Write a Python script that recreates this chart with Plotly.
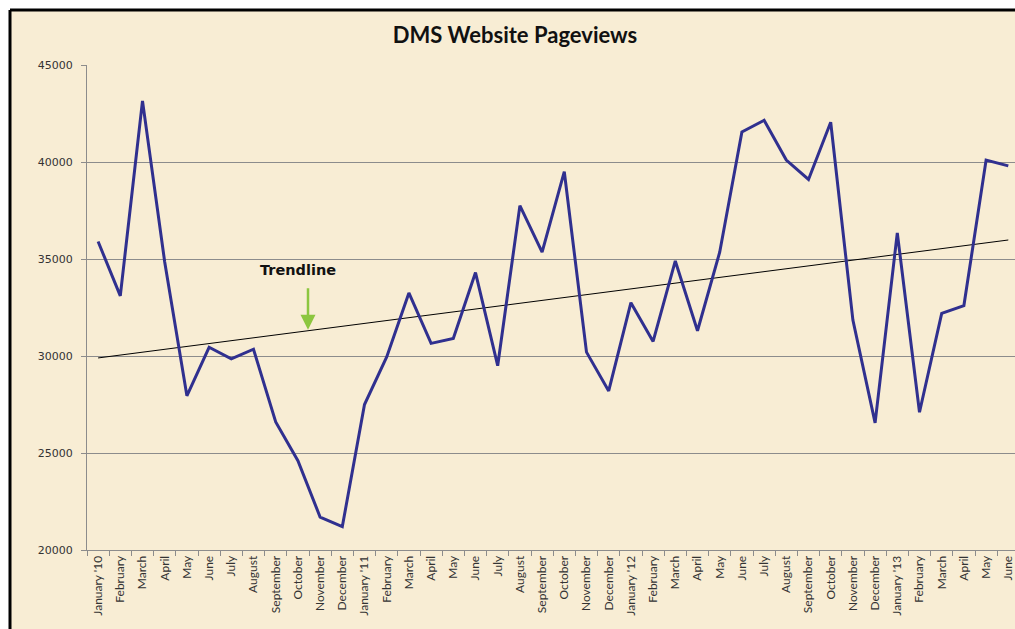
import plotly.graph_objects as go

months = ["January '10", "February", "March", "April", "May", "June", "July", "August",
          "September", "October", "November", "December",
          "January '11", "February", "March", "April", "May", "June", "July", "August",
          "September", "October", "November", "December",
          "January '12", "February", "March", "April", "May", "June", "July", "August",
          "September", "October", "November", "December",
          "January '13", "February", "March", "April", "May", "June"]

pageviews = [35900, 33100, 43150, 34850, 27950, 30450, 29850, 30350,
             26600, 24600, 21700, 21200,
             27500, 29950, 33250, 30650, 30900, 34300, 29500, 37750,
             35350, 39500, 30200, 28200,
             32750, 30750, 34900, 31300, 35350, 41550, 42150, 40100,
             39100, 42050, 31850, 26550,
             36350, 27100, 32200, 32600, 40100, 39800]

trend_x = [0, 41]
trend_y = [29900, 35980]

y_ticks = [20000, 25000, 30000, 35000, 40000, 45000]

W, H = 1015, 629
ML, MR, MT, MB = 87, 0, 65, 79
PW = W - ML - MR
PH = H - MT - MB
CW = 22.2

def px_x(p):
    return (p - ML) / PW

def px_y(p):
    return 1 - (p - MT) / PH

idx = list(range(len(months)))

fig = go.Figure()
fig.add_trace(go.Scatter(x=trend_x, y=trend_y, mode="lines",
                         line=dict(color="#000000", width=1), hoverinfo="skip"))
fig.add_trace(go.Scatter(x=idx, y=pageviews, mode="lines",
                         line=dict(color="#30308F", width=3)))

fig.update_layout(
    width=W, height=H,
    margin=dict(l=ML, r=MR, t=MT, b=MB, pad=0),
    paper_bgcolor="#FFFFFF",
    plot_bgcolor="rgba(0,0,0,0)",
    showlegend=False,
    title=dict(text="<b>DMS Website Pageviews</b>", x=(515 - ML) / PW, xref="paper",
               xanchor="center", y=1 - 35 / H, yanchor="middle",
               font=dict(family="Lato", size=22, color="#111111")),
    shapes=[
        dict(type="rect", xref="paper", yref="paper", layer="below",
             x0=px_x(10), x1=px_x(1030), y0=px_y(640), y1=px_y(10),
             fillcolor="#F8EDD4", line=dict(width=0)),
        dict(type="line", xref="paper", yref="paper", layer="above",
             x0=px_x(10), x1=px_x(1030), y0=px_y(10), y1=px_y(10),
             line=dict(color="#000000", width=3)),
        dict(type="line", xref="paper", yref="paper", layer="above",
             x0=px_x(10), x1=px_x(10), y0=px_y(10), y1=px_y(640),
             line=dict(color="#000000", width=3)),
    ],
    annotations=[
        dict(text="<b>Trendline</b>", xref="x", yref="paper",
             x=(298 - ML) / CW - 0.5, y=px_y(270), showarrow=False,
             xanchor="center", yanchor="middle",
             font=dict(family="DejaVu Sans", size=14.5, color="#111111")),
        dict(text="", xref="x", yref="y", x=(308 - ML) / CW - 0.5, y=31350,
             showarrow=True, arrowhead=2, arrowsize=1.2, arrowwidth=2.5,
             arrowcolor="#8CC63F", axref="pixel", ayref="pixel", ax=0, ay=-43),
    ],
)

fig.update_xaxes(
    range=[-0.5, -0.5 + PW / CW],
    tickmode="array", tickvals=idx, ticktext=months, tickangle=-90,
    ticks="", showgrid=False, zeroline=False,
    showline=True, linecolor="#8C8C8C", linewidth=1,
    ticklabeloverflow="allow",
    tickfont=dict(family="Lato", size=12, color="#333333"),
    minor=dict(tickmode="array", tickvals=[i - 0.5 for i in range(len(months) + 1)],
               ticks="outside", ticklen=5, tickcolor="#8C8C8C", showgrid=False),
)
fig.update_yaxes(
    range=[20000, 45000],
    tickmode="array", tickvals=y_ticks, ticktext=[str(v) for v in y_ticks],
    ticks="outside", ticklen=5, tickcolor="#8C8C8C",
    showgrid=True, gridcolor="#8C8C8C", gridwidth=1, zeroline=False,
    showline=True, linecolor="#8C8C8C", linewidth=1,
    ticklabelstandoff=6,
    tickfont=dict(family="DejaVu Sans", size=11, color="#333333"),
)

fig.write_html("out.html", config={"displayModeBar": False})

with open("out.html", "r", encoding="utf-8") as f:
    html = f.read()
html = html.replace("<head>", "<head><style>html,body{margin:0;padding:0;overflow:hidden;}</style>", 1)
with open("out.html", "w", encoding="utf-8") as f:
    f.write(html)
